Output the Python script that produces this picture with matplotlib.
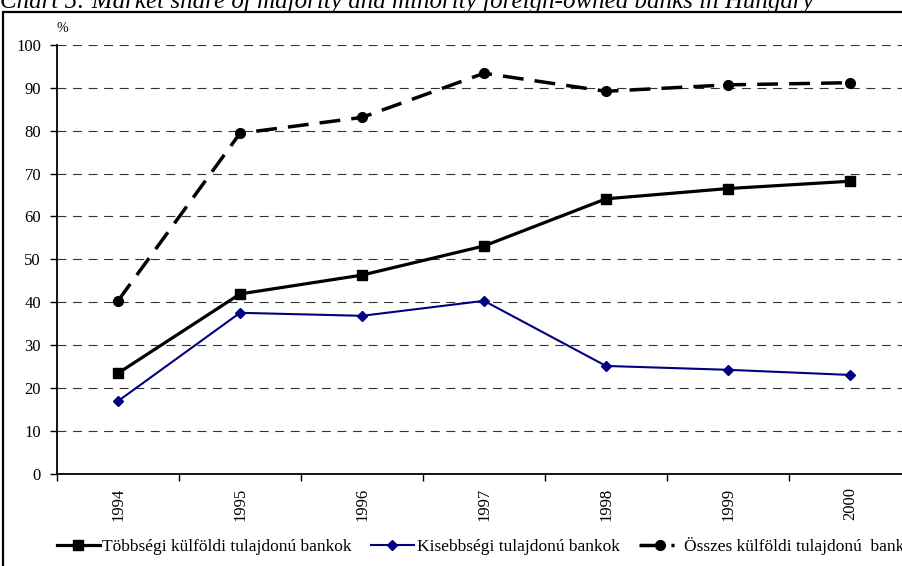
import matplotlib
matplotlib.use("Agg")
import matplotlib.pyplot as plt
from matplotlib.patches import Rectangle
from matplotlib.lines import Line2D
from matplotlib.ticker import FixedLocator

plt.rcParams['font.family'] = ['Liberation Serif', 'DejaVu Serif']

years = ['1994', '1995', '1996', '1997', '1998', '1999', '2000']
majority = [23.4, 41.9, 46.3, 53.1, 64.1, 66.5, 68.2]
minority = [16.9, 37.5, 36.8, 40.3, 25.1, 24.2, 23.0]
total = [40.3, 79.4, 83.1, 93.4, 89.2, 90.7, 91.2]

labels = ['Többségi külföldi tulajdonú bankok',
          'Kisebbségi tulajdonú bankok',
          'Összes külföldi tulajdonú  bankok']
title = 'Chart 5: Market share of majority and minority foreign-owned banks in Hungary'

W, H = 903, 566
fig = plt.figure(figsize=(W / 100, H / 100), dpi=100)

# axes box in pixels: left 57, right 911 (runs past the edge), top 45, bottom 473.5
ax = fig.add_axes([57 / W, (H - 473.5) / H, 854 / W, 428.5 / H])

x = list(range(len(years)))

l1, = ax.plot(x, majority, color='black', lw=2.3, marker='s', ms=7.5, zorder=4)
l2, = ax.plot(x, minority, color='#000080', lw=1.5, marker='D', ms=5.5, zorder=4)
ax.plot(x, total, color='black', lw=2.5, linestyle=(0, (6, 3.2)), marker='o',
        ms=7, zorder=4)

ax.set_xlim(-0.5, len(years) - 0.5)
ax.set_ylim(0, 100)
ax.set_yticks(range(0, 101, 10))
ax.yaxis.grid(True, color='#333333', lw=0.8, linestyle=(0, (8, 6)))
ax.set_axisbelow(True)

# category ticks sit between the years, labels in the middle
ax.xaxis.set_major_locator(FixedLocator([i - 0.5 for i in range(len(years) + 1)]))
ax.xaxis.set_minor_locator(FixedLocator(x))
ax.set_xticklabels([])
ax.set_xticklabels(years, minor=True, rotation=90, fontsize=12)
ax.tick_params(axis='x', which='minor', length=0, pad=10)
ax.tick_params(axis='x', which='major', length=5, width=1, direction='out')
ax.tick_params(axis='y', length=5, width=1, labelsize=12, pad=6.5)

for side in ['top', 'right']:
    ax.spines[side].set_visible(False)
ax.spines['left'].set_linewidth(1.3)
ax.spines['bottom'].set_linewidth(1.3)

ax.annotate('%', xy=(0, 1), xycoords='axes fraction', xytext=(0, 7),
            textcoords='offset points', fontsize=10, va='bottom', ha='left')

fig.text(0, 1 - 8 / H, title, fontsize=18, style='italic', va='baseline', ha='left')

# outer frame around the chart
fig.patches.append(Rectangle((3 / W, -0.05), 1.2, 1 - 12 / H + 0.05,
                             transform=fig.transFigure, fill=False,
                             edgecolor='black', lw=1.6, clip_on=False))

# the dashed series gets a shorter dash pattern in the key
key_total = Line2D([], [], color='black', lw=2.5, marker='o', ms=7,
                   linestyle=(0, (7.2, 2.0, 0.9, 10)))

fig.legend([l1, l2, key_total], labels, loc='center left',
           bbox_to_anchor=(57 / W, 1 - 546 / H), ncol=3,
           frameon=False, fontsize=12.5, handlelength=2.45, handletextpad=0.17,
           columnspacing=1.1, borderaxespad=0, borderpad=0)

fig.savefig('out.png', dpi=100)
